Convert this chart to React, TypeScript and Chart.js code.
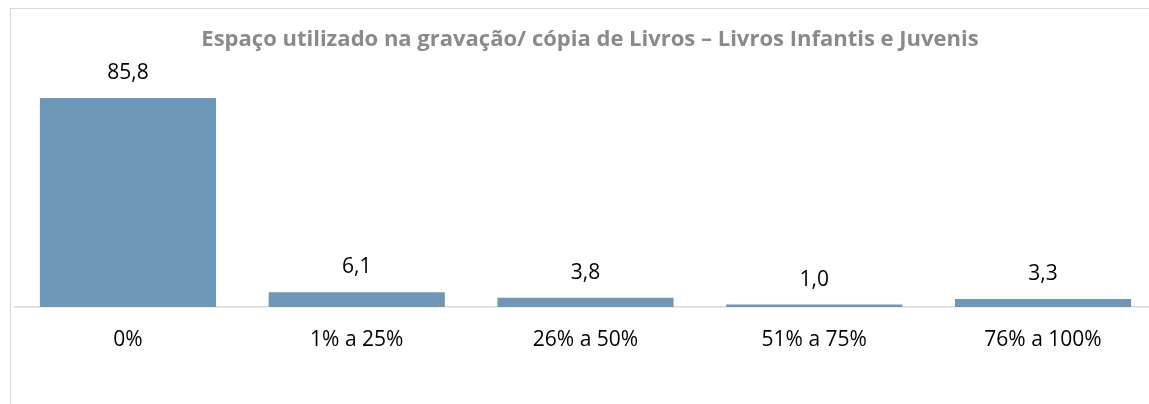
import React, { useEffect, useRef } from "react";
import { Chart, registerables } from "chart.js";

Chart.register(...registerables);

const titleText = "Espaço utilizado na gravação/ cópia de Livros – Livros Infantis e Juvenis";
const categories = ["0%", "1% a 25%", "26% a 50%", "51% a 75%", "76% a 100%"];
const values = [85.8, 6.1, 3.8, 1.0, 3.3];

const FONT = "'Open Sans', 'Liberation Sans', sans-serif";

export default function App() {
  const ref = useRef<HTMLCanvasElement | null>(null);

  useEffect(() => {
    if (!ref.current) return;
    const labelPlugin = {
      id: "valueLabels",
      afterDatasetsDraw(chart: any) {
        const ctx = chart.ctx;
        const meta = chart.getDatasetMeta(0);
        ctx.save();
        ctx.font = `21px ${FONT}`;
        ctx.fillStyle = "#000000";
        ctx.textAlign = "center";
        ctx.textBaseline = "middle";
        meta.data.forEach((bar: any, i: number) => {
          const v = chart.data.datasets[0].data[i] as number;
          ctx.fillText(v.toFixed(1).replace(".", ","), bar.x, bar.y - 25);
        });
        ctx.restore();
      },
    };
    const titlePlugin = {
      id: "customTitle",
      afterDraw(chart: any) {
        const ctx = chart.ctx;
        ctx.save();
        ctx.font = `bold 22px ${FONT}`;
        ctx.fillStyle = "#8a8a8a";
        ctx.textAlign = "center";
        ctx.textBaseline = "middle";
        ctx.fillText(titleText, 579, 31);
        ctx.restore();
      },
    };
    const chart = new Chart(ref.current, {
      type: "bar",
      data: {
        labels: categories,
        datasets: [
          {
            data: values,
            backgroundColor: "#6e96b6",
            borderWidth: 0,
            barPercentage: 0.77,
            categoryPercentage: 1,
          },
        ],
      },
      options: {
        animation: false,
        responsive: false,
        maintainAspectRatio: false,
        layout: { padding: { left: 2.6, right: 21.6, top: 54.4, bottom: 0 } },
        plugins: {
          legend: { display: false },
          title: { display: false },
          tooltip: { enabled: false },
        },
        scales: {
          x: {
            grid: { display: false, drawTicks: false },
            border: { display: true, color: "#d9d9d9", width: 1.5 },
            ticks: {
              color: "#000000",
              font: { family: FONT, size: 21 },
              padding: 20,
              maxRotation: 0,
            },
            afterFit: (s: any) => {
              s.height = 120;
            },
          },
          y: {
            display: false,
            min: 0,
            max: 100,
          },
        },
      },
      plugins: [labelPlugin, titlePlugin],
    });
    return () => chart.destroy();
  }, []);

  return (
    <div
      style={{
        position: "fixed",
        left: 0,
        top: 0,
        width: 1149,
        height: 404,
        overflow: "hidden",
        background: "#ffffff",
      }}
    >
      <div
        style={{
          position: "absolute",
          left: 10,
          top: 8,
          width: 1170,
          height: 420,
          border: "1px solid #d9d9d9",
          boxSizing: "border-box",
        }}
      >
        <canvas ref={ref} width={1168} height={418} style={{ display: "block" }} />
      </div>
    </div>
  );
}
